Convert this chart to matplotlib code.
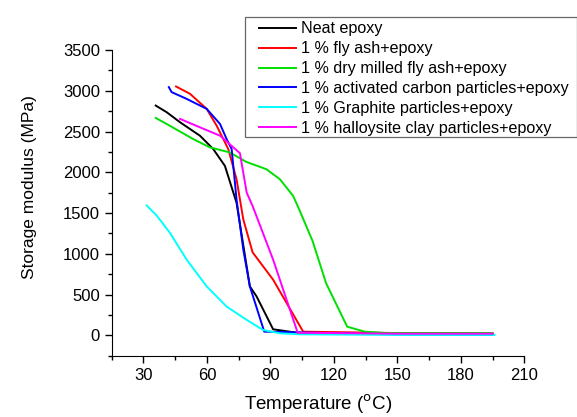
import matplotlib
matplotlib.use("Agg")
import matplotlib.pyplot as plt
from matplotlib.ticker import MultipleLocator
from matplotlib.patches import Rectangle

plt.rcParams['font.family'] = ['Liberation Sans', 'DejaVu Sans']

labels = ["Neat epoxy", "1 % fly ash+epoxy", "1 % dry milled fly ash+epoxy",
          "1 % activated carbon particles+epoxy", "1 % Graphite particles+epoxy",
          "1 % halloysite clay particles+epoxy"]
colors = ["#000000", "#ff0000", "#00e000", "#0000ff", "#00ffff", "#ff00ff"]

neat_x = [35.8, 41, 47.3, 56.7, 63, 68.5, 74, 80.3, 83.5, 91.3, 102.4, 150, 195]
neat_y = [2819, 2737, 2614, 2449, 2285, 2079, 1627, 600, 476, 74, 32, 25, 20]

fly_x = [45.4, 52, 59.9, 64.6, 70.1, 74, 77.2, 81.6, 91.3, 105.5, 150, 195]
fly_y = [3053, 2963, 2778, 2572, 2285, 1915, 1422, 1018, 682, 45, 28, 25]

dry_x = [35.8, 41, 53.5, 61.4, 70.8, 78.6, 88.1, 94.5, 100.8, 103.6, 110, 116.3, 126.3, 134.6, 144.9, 194.5]
dry_y = [2667, 2593, 2408, 2306, 2244, 2128, 2038, 1915, 1709, 1545, 1154, 641, 106, 45, 28, 28]

ac_x = [42, 43.3, 50.4, 59.9, 66.2, 69.3, 71.7, 74, 77.2, 80.3, 87.1, 150, 195]
ac_y = [3045, 2984, 2901, 2778, 2593, 2408, 2285, 1668, 1052, 600, 45, 10, 5]

gr_x = [31.5, 36.2, 42.5, 50.4, 59.9, 69.3, 78.8, 86.6, 94.5, 103.9, 150, 196]
gr_y = [1594, 1471, 1258, 929, 600, 353, 189, 65, 25, 12, 5, 5]

hal_x = [47.3, 56.7, 66.2, 75.6, 78.8, 81.6, 91.3, 102.9, 150, 195]
hal_y = [2655, 2552, 2449, 2235, 1751, 1586, 928, 32, 20, 20]

xs = [neat_x, fly_x, dry_x, ac_x, gr_x, hal_x]
ys = [neat_y, fly_y, dry_y, ac_y, gr_y, hal_y]

W, H = 577, 417
fig = plt.figure(figsize=(W / 100, H / 100), dpi=100)
ax = fig.add_axes([0.1936, 0.147, 0.715, 0.733])

for x, y, c, l in zip(xs, ys, colors, labels):
    ax.plot(x, y, color=c, lw=1.4, label=l)

ax.set_xlim(15, 210)
ax.set_ylim(-250, 3500)
ax.xaxis.set_minor_locator(MultipleLocator(15))
ax.yaxis.set_major_locator(MultipleLocator(500))
ax.yaxis.set_minor_locator(MultipleLocator(250))
ax.set_xticks(range(30, 211, 30))
ax.spines['top'].set_visible(False)
ax.spines['right'].set_visible(False)
ax.tick_params(which='major', direction='out', length=5, width=1, labelsize=12, pad=3.5)
ax.tick_params(which='minor', direction='out', length=3, width=1)
ax.set_xlabel("Temperature ($^{\\rm o}$C)", fontsize=13.5, labelpad=7)
ax.set_ylabel("Storage modulus (MPa)", fontsize=12.5)
ax.yaxis.set_label_coords(-0.182, 0.553)

leg = fig.legend(loc='upper left', bbox_to_anchor=(259 / W, 1 - 21.5 / H), fontsize=11.6,
                 frameon=False, handlelength=2.32, labelspacing=0.3, borderpad=0,
                 handletextpad=0.31, borderaxespad=0)

fig.add_artist(Rectangle((245 / W, 1 - 137.3 / H), (576.5 - 245) / W, 120 / H,
                         transform=fig.transFigure, fill=False, edgecolor='#666666',
                         linewidth=0.9))

fig.savefig("out.png", dpi=100)
